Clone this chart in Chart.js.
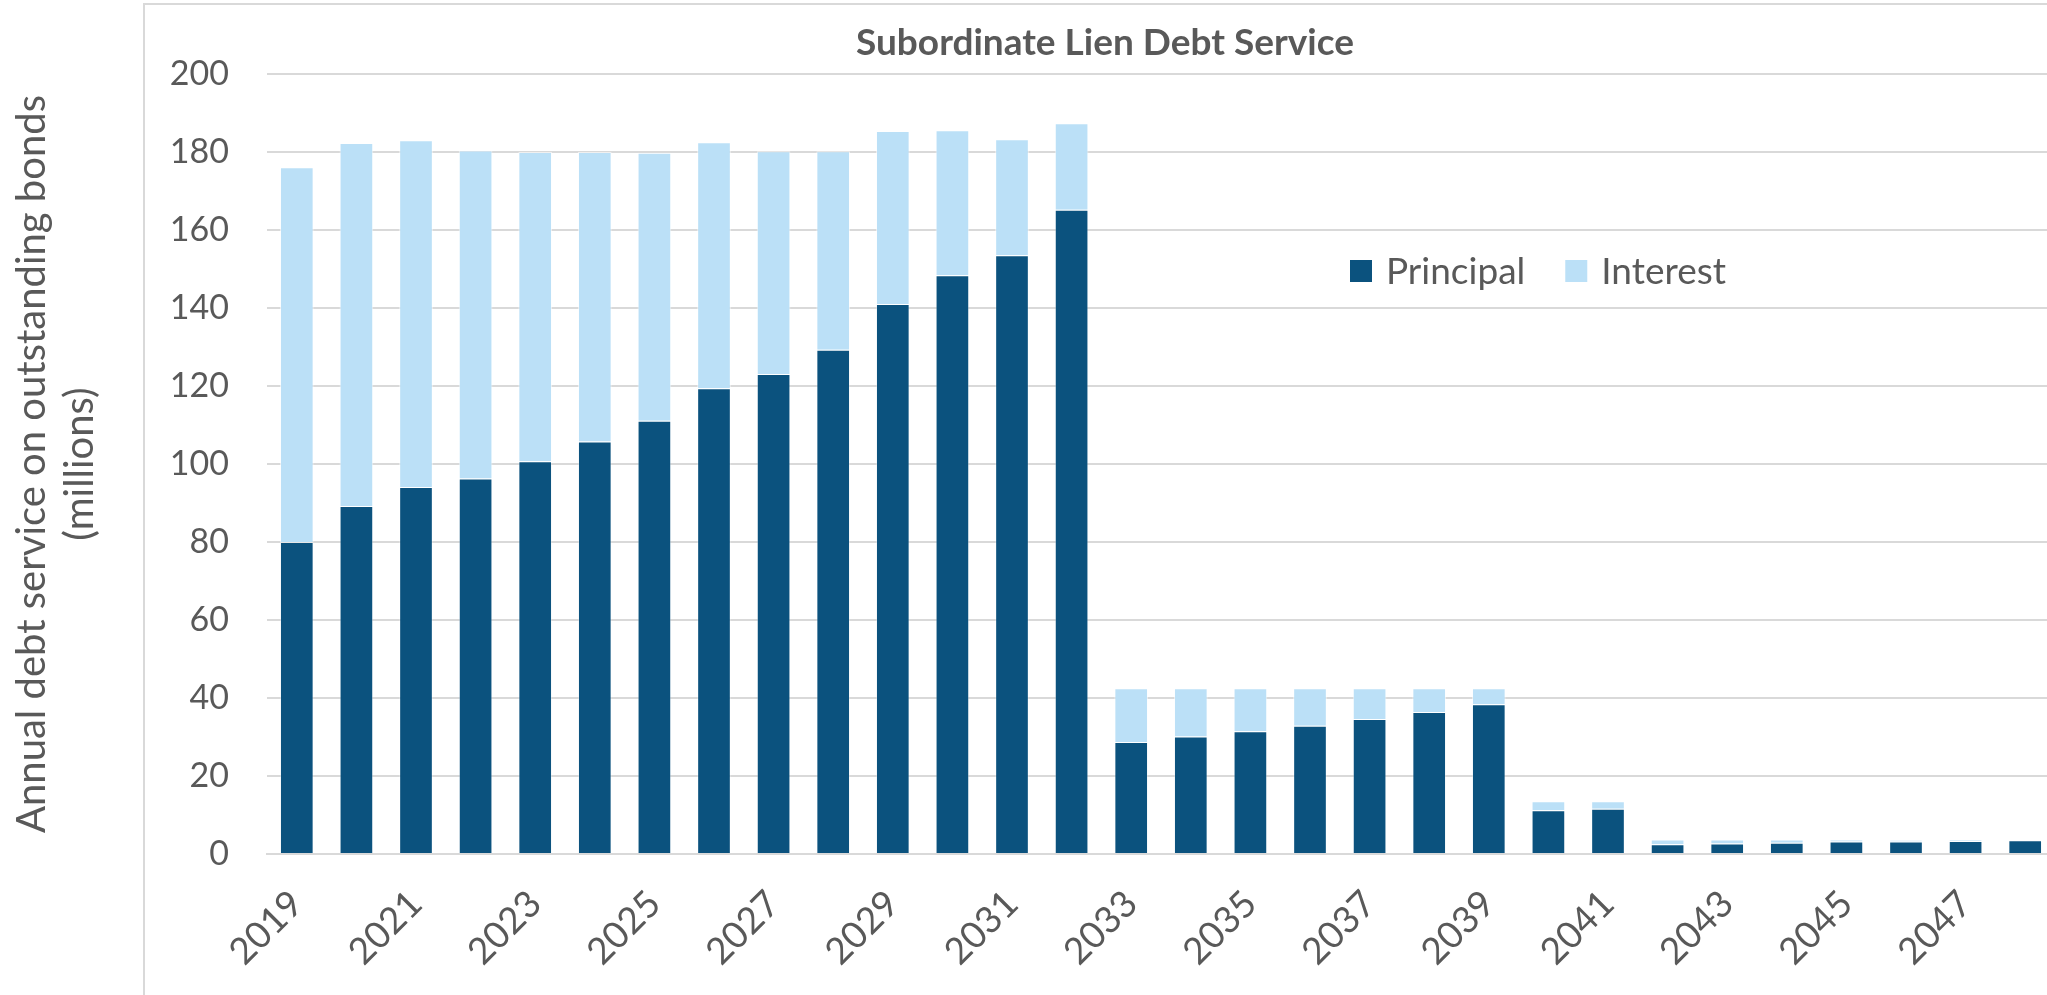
<!DOCTYPE html>
<html>
<head>
<meta charset="utf-8">
<title>Subordinate Lien Debt Service</title>
<script src="https://cdn.jsdelivr.net/npm/chart.js@4.4.1/dist/chart.umd.min.js"></script>
<style>
  html, body { margin: 0; padding: 0; background: #fff; overflow: hidden; }
  /* the plot runs a little past the right edge of the picture, so the box is wider than the window */
  #wrap { position: absolute; left: 0; top: 0; width: 2060px; height: 995px; }
</style>
</head>
<body>
<div id="wrap"><canvas id="chart"></canvas></div>
<script>
// Values, in millions
const years = ['2019', '2020', '2021', '2022', '2023', '2024', '2025', '2026', '2027', '2028',
  '2029', '2030', '2031', '2032', '2033', '2034', '2035', '2036', '2037', '2038',
  '2039', '2040', '2041', '2042', '2043', '2044', '2045', '2046', '2047', '2048'];
const principal = [80.0, 89.2, 94.1, 96.3, 100.7, 105.8, 111.1, 119.4, 123.1, 129.3,
  141.0, 148.4, 153.5, 165.2, 28.7, 30.1, 31.5, 32.9, 34.6, 36.4,
  38.4, 11.2, 11.6, 2.5, 2.7, 2.9, 3.2, 3.2, 3.35, 3.5];
const interest = [96.1, 93.1, 88.9, 84.1, 79.3, 74.2, 68.7, 63.1, 57.1, 50.9,
  44.4, 37.2, 29.8, 22.2, 13.8, 12.4, 11.0, 9.6, 7.9, 6.1,
  4.1, 2.3, 1.9, 1.2, 1.0, 0.8, 0.5, 0.4, 0.25, 0.1];
const yTickValues = [0, 20, 40, 60, 80, 100, 120, 140, 160, 180, 200];

const chartTitle = 'Subordinate Lien Debt Service';
const yTitle = ['Annual debt service on outstanding bonds', '(millions)'];

const textGray = '#595959';
const gridGray = '#D9D9D9';
const fontName = 'Lato, "Open Sans", sans-serif';

// Draws the chart frame, the title and the legend that sits inside the plot
const frameAndLegend = {
  id: 'frameAndLegend',
  afterDraw(chart) {
    const ctx = chart.ctx;
    ctx.save();

    ctx.strokeStyle = gridGray;
    ctx.lineWidth = 2;
    ctx.beginPath();
    ctx.moveTo(144, chart.height);
    ctx.lineTo(144, 4);
    ctx.lineTo(chart.width, 4);
    ctx.stroke();

    ctx.fillStyle = textGray;
    ctx.font = 'bold 37px ' + fontName;
    ctx.textAlign = 'center';
    ctx.textBaseline = 'alphabetic';
    ctx.fillText(chartTitle, 1105, 55);

    ctx.font = '37px ' + fontName;
    ctx.textAlign = 'left';
    let x = 1350;
    chart.data.datasets.forEach(ds => {
      ctx.fillStyle = ds.backgroundColor;
      ctx.fillRect(x, 260, 22, 22);
      ctx.fillStyle = textGray;
      ctx.fillText(ds.label, x + 36, 284);
      x += 36 + ctx.measureText(ds.label).width + 40;
    });

    ctx.restore();
  }
};

new Chart(document.getElementById('chart'), {
  type: 'bar',
  data: {
    labels: years,
    datasets: [
      { label: 'Principal', data: principal, backgroundColor: '#0B527E',
        borderColor: 'rgba(255,255,255,0.35)', borderWidth: 1 },
      { label: 'Interest', data: interest, backgroundColor: '#BBE0F7',
        borderColor: 'rgba(255,255,255,0.6)', borderWidth: 1 }
    ]
  },
  options: {
    responsive: true,
    maintainAspectRatio: false,
    animation: false,
    layout: { padding: { top: 74, right: 5, left: 0, bottom: 0 } },
    datasets: { bar: { categoryPercentage: 1, barPercentage: 0.565 } },
    plugins: {
      legend: { display: false },
      title: { display: false },
      tooltip: { enabled: false }
    },
    scales: {
      x: {
        stacked: true,
        grid: { display: false },
        border: { display: true, color: gridGray, width: 2 },
        ticks: {
          autoSkip: false,
          minRotation: 45,
          maxRotation: 45,
          padding: 20,
          color: textGray,
          font: { family: fontName, size: 37 },
          callback: function (val, i) {
            return i % 2 === 0 ? this.getLabelForValue(val) : '';
          }
        },
        afterFit(scale) {
          scale.height = 141;
          scale.paddingLeft = 0;
          scale.paddingRight = 0;
        }
      },
      y: {
        stacked: true,
        min: yTickValues[0],
        max: yTickValues[yTickValues.length - 1],
        grid: { color: gridGray, lineWidth: 2, drawTicks: false },
        border: { display: false },
        afterBuildTicks(scale) {
          scale.ticks = yTickValues.map(v => ({ value: v }));
        },
        ticks: {
          padding: 38,
          color: textGray,
          font: { family: fontName, size: 34 }
        },
        title: {
          display: true,
          text: yTitle,
          color: textGray,
          font: { family: fontName, size: 40, lineHeight: 1.2 },
          padding: { top: 8, bottom: 0 }
        },
        afterFit(scale) {
          scale.width = 267;
          scale.paddingTop = 0;
          scale.paddingBottom = 0;
        }
      }
    }
  },
  plugins: [frameAndLegend]
});
</script>
</body>
</html>
